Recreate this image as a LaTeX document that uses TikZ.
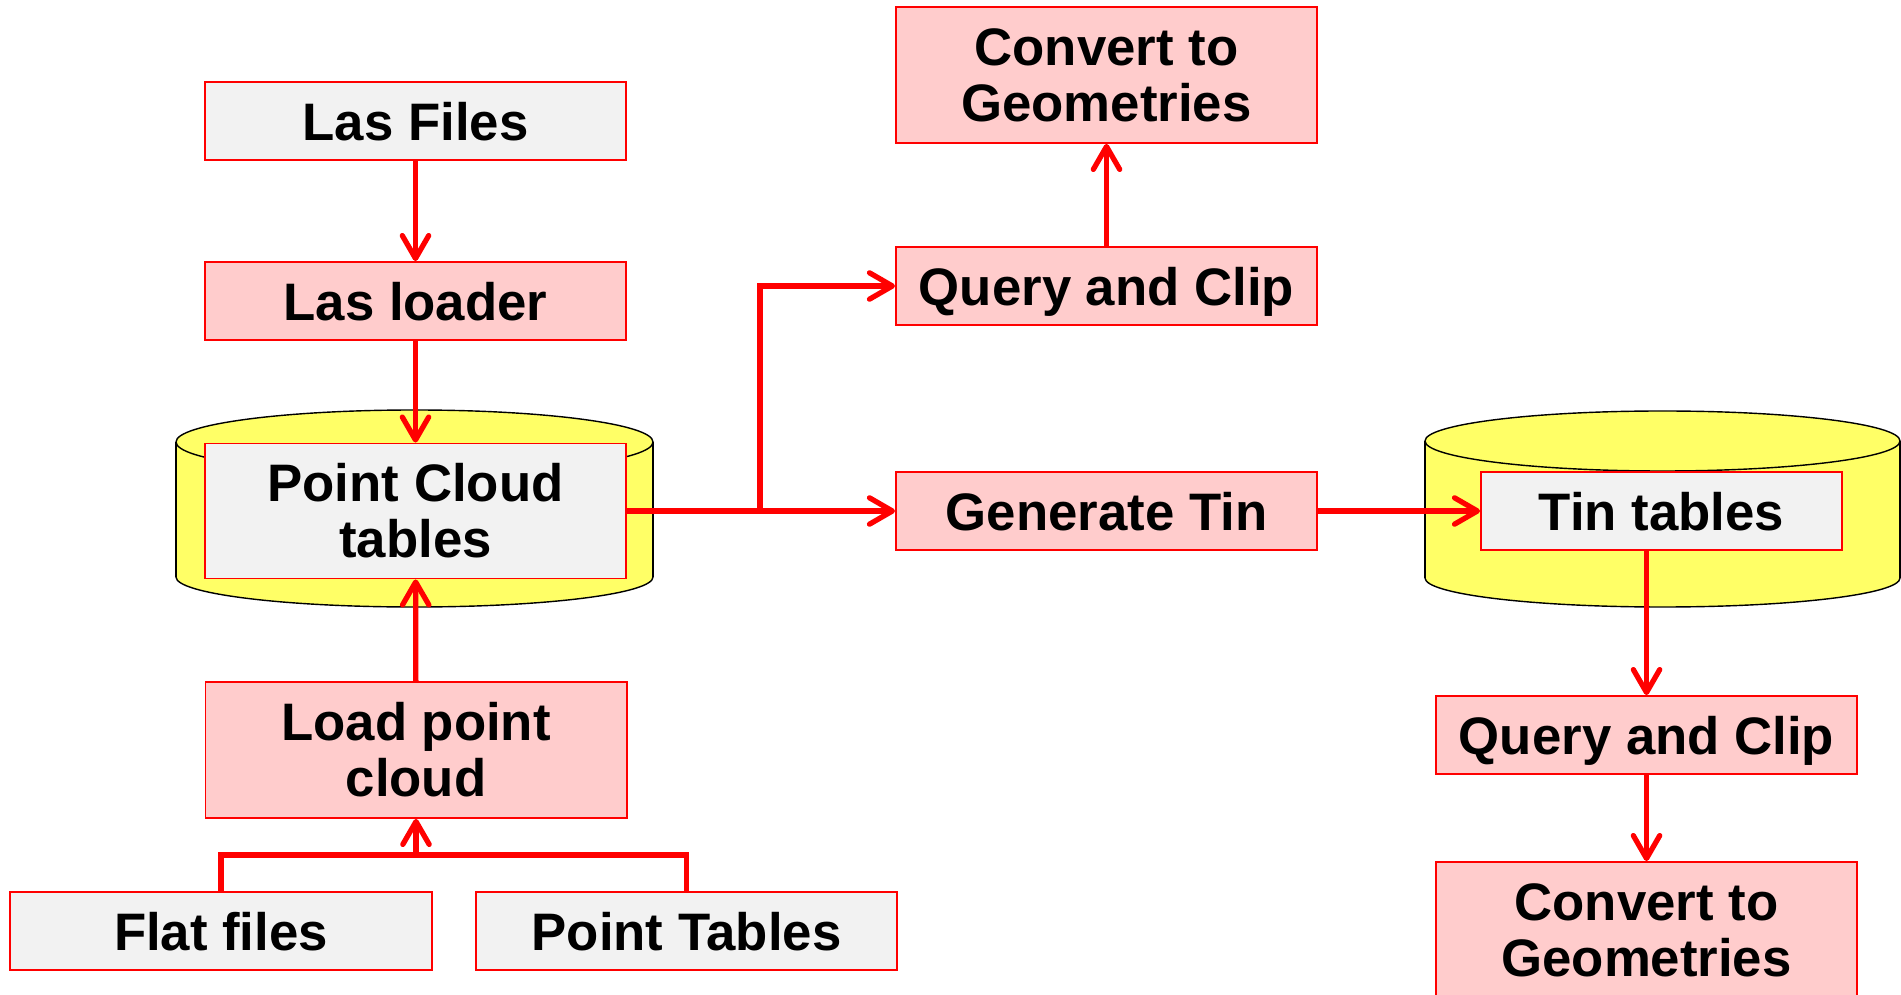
\documentclass[tikz,border=0pt]{standalone}
\usepackage{fontspec}
\setmainfont{Liberation Sans}
\usepackage{tikz}
\usetikzlibrary{arrows.meta, calc, positioning}
\definecolor{boxgrey}{HTML}{F2F2F2}
\definecolor{boxpink}{HTML}{FFCCCC}
\definecolor{cylyellow}{HTML}{FFFF66}

\begin{document}
\begin{tikzpicture}[x=0.01cm, y=-0.01cm,
	greybox/.style={draw=red, line width=0.5pt, fill=boxgrey, minimum width=4.21cm, minimum height=0.78cm, inner sep=0pt, align=center, font=\bfseries\fontsize{15}{16}\selectfont},
	pinkbox/.style={greybox, fill=boxpink},
	oneline/.style={text height=10.9pt, text depth=0pt},
	wire/.style={red, line width=1.5pt},
	flow/.style={wire, -{Straight Barb[length=6.5pt, width=7.5pt, round]}}]
				\useasboundingbox (0,0) rectangle (1901,995);
				
				% point cloud store
				\draw[fill=cylyellow] (414.5,577) ellipse [x radius=238.5, y radius=30];
				\fill[cylyellow] (176,442) rectangle (653,577);
				\draw (176,442) -- (176,577);
				\draw (653,442) -- (653,577);
				\draw[fill=cylyellow] (414.5,442) ellipse [x radius=238.5, y radius=32];
				
				% tin store
				\draw[fill=cylyellow] (1662.5,578) ellipse [x radius=237.5, y radius=29];
				\fill[cylyellow] (1425,441) rectangle (1900,578);
				\draw (1425,441) -- (1425,578);
				\draw (1900,441) -- (1900,578);
				\draw[fill=cylyellow] (1662.5,441) ellipse [x radius=237.5, y radius=30];
				
				\node[greybox, oneline] (lasfiles) at (415.5,121) {Las Files};
				\node[pinkbox, oneline] (lasloader) at (415.5,301) {Las loader};
				\node[greybox, minimum height=1.35cm] (pctables) at (415.5,511) {Point Cloud\\tables};
				\node[pinkbox, minimum height=1.36cm] (loadpc) at (416,750) {Load point\\cloud};
				\node[greybox, oneline] (flatfiles) at (221,931) {Flat files};
				\node[greybox, oneline] (pointtables) at (686.5,931) {Point Tables};
				
				\node[pinkbox, minimum height=1.36cm] (convtop) at (1106.5,75) {Convert to\\Geometries};
				\node[pinkbox, oneline] (querytop) at (1106.5,286) {Query and Clip};
				\node[pinkbox, oneline] (gentin) at (1106.5,511) {Generate Tin};
				
				\node[greybox, oneline, minimum width=3.61cm] (tintables) at (1661.5,511) {Tin tables};
				\node[pinkbox, oneline] (queryright) at (1646.5,735) {Query and Clip};
				\node[pinkbox, minimum height=1.36cm] (convright) at (1646.5,930) {Convert to\\Geometries};
				
				\coordinate (fork) at (416,855);
				\coordinate (split) at (760,511);
				
				\draw[flow] (lasfiles) -- (lasloader);
				\draw[flow] (lasloader) -- (pctables);
				\draw[flow] (loadpc) -- (pctables);
				\draw[wire] (flatfiles.north) |- (fork) -| (pointtables.north);
				\draw[flow] (fork) -- (loadpc.south);
				
				\draw[flow] (pctables.east) -- (gentin.west);
				\draw[flow] (split) |- (querytop.west);
				\draw[flow] (querytop) -- (convtop);
				\draw[flow] (gentin) -- (tintables);
				\draw[flow] (tintables.south -| queryright.north) -- (queryright.north);
				\draw[flow] (queryright) -- (convright);
\end{tikzpicture}
\end{document}
